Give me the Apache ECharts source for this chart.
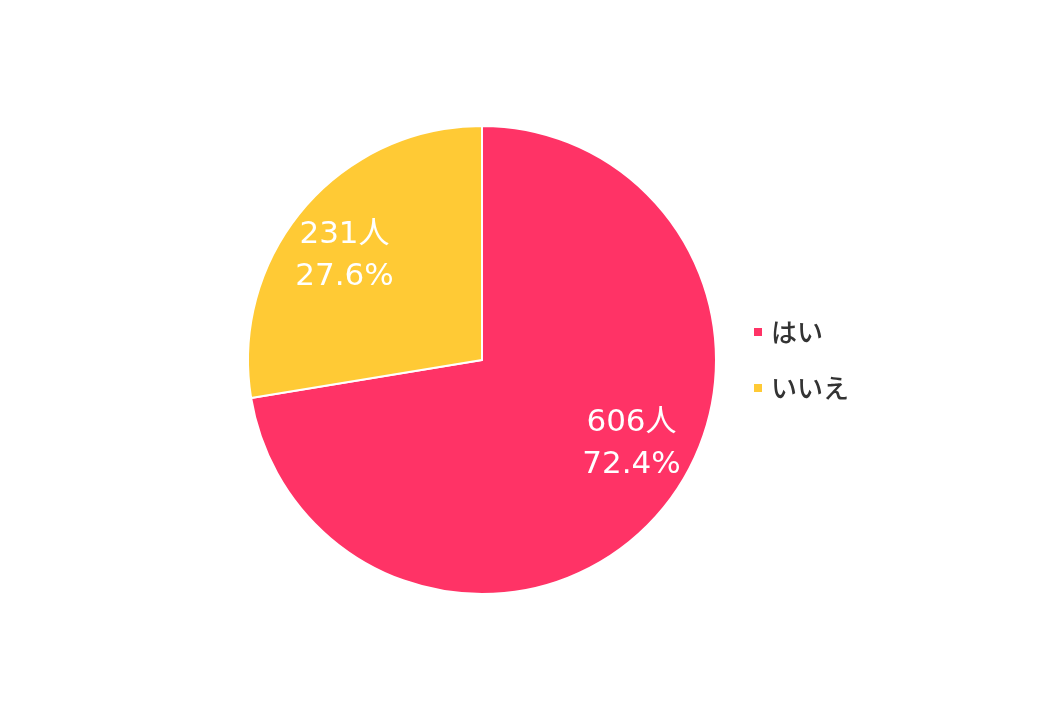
<!DOCTYPE html>
<html><head><meta charset="utf-8">
<script src="https://cdn.jsdelivr.net/npm/echarts@6/dist/echarts.min.js"></script>
<style>html,body{margin:0;padding:0;background:#fff}#c{width:1040px;height:720px}</style>
</head><body><div id="c"></div>
<script>
const categories = ['はい', 'いいえ'];
const counts = [606, 231];
const percents = ['72.4%', '27.6%'];
const colors = ['#FF3366', '#FFCA35'];
const labelOffsets = [[58, 6], [-46, -26]];

const chart = echarts.init(document.getElementById('c'));
chart.setOption({
  animation: false,
  legend: {
    orient: 'vertical',
    left: 752, top: 'middle',
    padding: 0,
    itemWidth: 10, itemHeight: 10, itemGap: 30,
    icon: 'rect',
    textStyle: { fontSize: 26, color: '#333', fontWeight: 500, fontFamily: 'Noto Sans CJK JP', padding: [0, 0, 0, 3] },
    data: categories
  },
  series: [{
    type: 'pie',
    center: [482, 360],
    radius: 234,
    startAngle: 90,
    clockwise: true,
    itemStyle: { borderColor: '#fff', borderWidth: 2 },
    label: {
      position: 'inside',
      color: '#fff',
      fontSize: 31,
      lineHeight: 42,
      fontFamily: '"DejaVu Sans", "Noto Sans CJK JP"',
      formatter: p => counts[p.dataIndex] + '人\n' + percents[p.dataIndex]
    },
    emphasis: { disabled: true },
    data: categories.map((n, i) => ({
      name: n, value: counts[i],
      itemStyle: { color: colors[i] },
      label: { offset: labelOffsets[i] }
    }))
  }]
});
</script></body></html>
